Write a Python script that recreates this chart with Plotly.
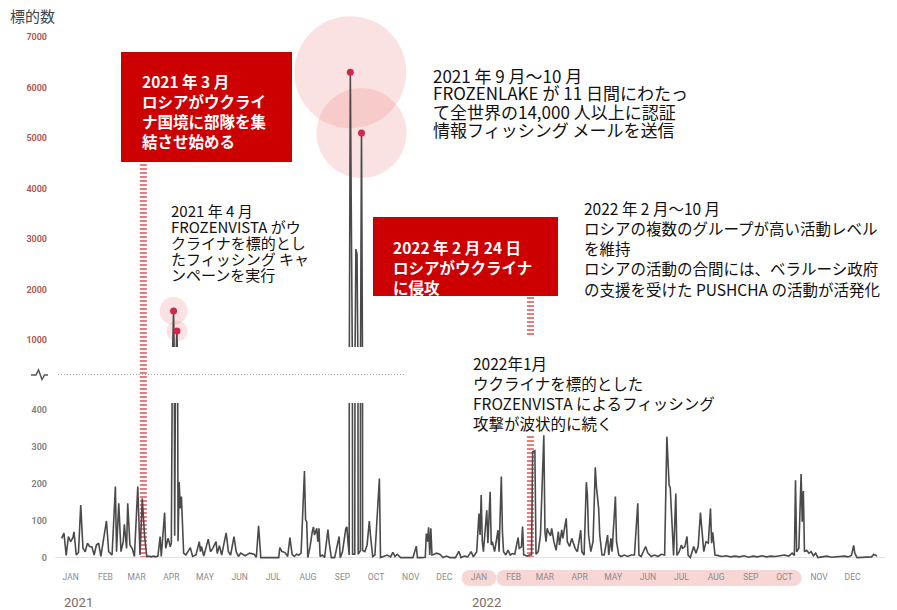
import pandas as pd
import plotly.graph_objects as go

# ---------------- data ----------------
START = "2021-01-01"
day_offsets = [
    0, 2, 4, 6, 8, 10, 11, 13, 15, 17, 19, 21, 23, 25, 27, 29, 31, 33, 35, 37, 40, 42, 45, 48, 49,
    51, 53, 55, 56, 58, 59, 61, 63, 65, 68, 70, 72, 74, 76, 78, 80, 82, 84, 86, 88, 89, 92, 93, 95,
    96, 97, 98, 99, 100, 101, 102, 103, 104, 105, 106, 107, 108, 109, 111, 115, 117, 120, 123, 124,
    125, 127, 131, 133, 135, 138, 139, 141, 143, 145, 147, 149, 151, 154, 156, 158, 160, 164, 168,
    172, 174, 176, 178, 185, 190, 194, 195, 197, 198, 200, 202, 204, 206, 208, 210, 212, 214, 217,
    218, 219, 220, 222, 224, 225, 226, 228, 229, 230, 231, 233, 235, 238, 239, 241, 244, 248, 249,
    251, 254, 255, 256, 257, 258, 259, 260, 262, 263, 264, 265, 267, 268, 269, 271, 273, 275, 276,
    278, 280, 284, 285, 288, 291, 294, 296, 298, 300, 303, 310, 314, 317, 318, 322, 325, 326, 327,
    328, 329, 330, 331, 333, 335, 338, 341, 344, 347, 352, 355, 357, 360, 363,
    366, 368, 371, 373, 374, 375, 376, 377, 380, 381, 383, 384, 385, 387, 390, 391, 393, 394, 395,
    397, 399, 401, 403, 405, 408, 409, 411, 412, 413, 414, 416, 418, 420, 421, 423, 424, 426, 428,
    431, 432, 433, 434, 435, 437, 438, 440, 442, 444, 445, 447, 448, 451, 452, 454, 456, 459, 461,
    464, 465, 467, 469, 470, 471, 473, 475, 477, 478, 480, 481, 483, 485, 488, 489, 491, 492, 495,
    496, 498, 500, 503, 506, 509, 512, 515, 516, 518, 522, 524, 527, 530, 533, 536, 539, 541, 543,
    544, 545, 547, 549, 550, 552, 554, 555, 557, 559, 560, 562, 565, 567, 569, 571, 573, 574, 576,
    578, 580, 581, 582, 584, 586, 590, 594, 598, 602, 606, 610, 614, 618, 622, 626, 630, 634, 638,
    642, 646, 650, 653, 655, 656, 657, 659, 661, 662, 663, 664, 666, 668, 670, 672, 674, 676, 680,
    684, 688, 692, 696, 700, 703, 706, 708, 709, 711, 715, 720, 724, 726, 729,
]
target_counts = [
    53, 67, 7, 58, 44, 55, 71, 8, 15, 143, 26, 17, 40, 31, 30, 8, 35, 40, 4, 40, 100, 17, 8, 193, 17,
    148, 17, 44, 91, 26, 148, 35, 26, 4, 193, 8, 161, 62, 4, 5, 3, 5, 3, 5, 58, 4, 123, 26, 53,
    44, 30, 40, 600, 1575, 60, 700, 1180, 45, 205, 134, 166, 97, 13, 8, 28, 4, 8, 44, 17,
    31, 5, 51, 17, 26, 44, 12, 33, 8, 44, 68, 17, 8, 58, 17, 4, 13, 6, 13,
    10, 2, 87, 1, 1, 1, 1, 28, 17, 17, 13, 4, 55, 10, 4, 10, 8, 13, 235,
    103, 98, 1, 30, 71, 84, 62, 80, 44, 80, 4, 8, 1, 77, 44, 1, 1, 58, 1,
    17, 80, 84, 40, 8, 6300, 2900, 10, 10, 2800, 2700, 10, 20, 5100, 20, 17, 35, 100, 62,
    4, 8, 215, 1, 5, 8, 3, 15, 4, 10, 1, 1, 1, 32, 1, 1, 2, 66, 44,
    83, 8, 80, 8, 10, 13, 10, 1, 5, 1, 1, 18, 1, 5, 3,
    17, 3, 17, 120, 62, 170, 44, 17, 129, 40, 179, 35, 44, 17, 75, 17, 220, 71, 17,
    8, 21, 8, 12, 10, 55, 26, 30, 85, 8, 8, 5, 8, 8, 287, 290, 10, 17, 62,
    332, 71, 44, 80, 71, 60, 80, 44, 21, 71, 35, 76, 53, 107, 44, 31, 53, 26, 17,
    75, 17, 8, 205, 166, 62, 17, 44, 245, 193, 134, 62, 8, 8, 62, 8, 53, 17, 166,
    44, 8, 4, 8, 4, 8, 8, 148, 8, 4, 31, 13, 4, 8, 4, 10, 8, 328, 197,
    190, 116, 7, 174, 7, 17, 35, 26, 30, 58, 7, 1, 31, 13, 31, 123, 44, 17, 44,
    40, 134, 40, 69, 8, 7, 4, 6, 3, 5, 3, 6, 2, 5, 3, 6, 3, 5, 4,
    6, 8, 5, 13, 7, 210, 17, 26, 227, 98, 181, 17, 21, 13, 17, 6, 13, 1, 3,
    5, 2, 3, 3, 5, 3, 7, 34, 13, 1, 1, 1, 3, 10, 5,
]
highlight_days = [100, 103, 258, 268]
month_names = ["JAN", "FEB", "MAR", "APR", "MAY", "JUN", "JUL", "AUG", "SEP", "OCT", "NOV", "DEC"]
years = ["2021", "2022"]
upper_ticks = [1000, 2000, 3000, 4000, 5000, 6000, 7000]
lower_ticks = [0, 100, 200, 300, 400]
event_dates = ["2021-03-15", "2022-02-24"]

# ---------------- geometry helpers ----------------
W, H = 897, 610
L, R, T, B = 55, 12, 30, 45
PW, PH = W - L - R, H - T - B


def px(x):
    return (x - L) / PW


def py(y):
    return (H - B - y) / PH


FONT = "Noto Sans CJK JP, Noto Sans, sans-serif"
start = pd.Timestamp(START)
dates = start + pd.to_timedelta(day_offsets, unit="D")
hl_dates = [start + pd.Timedelta(days=d) for d in highlight_days]
hl_vals = [target_counts[day_offsets.index(d)] for d in highlight_days]

fig = go.Figure()

# highlight halos
fig.add_trace(go.Scatter(
    x=hl_dates, y=hl_vals, xaxis="x2", yaxis="y2", mode="markers",
    marker=dict(size=[28, 21, 112, 90], color="rgba(236,120,120,0.30)", line=dict(width=0)),
    cliponaxis=False, hoverinfo="skip", showlegend=False))

for xa, ya in (("x", "y"), ("x2", "y2")):
    fig.add_trace(go.Scatter(
        x=dates, y=target_counts, xaxis=xa, yaxis=ya, mode="lines",
        line=dict(color="#4a4a4a", width=1.6), showlegend=False, hoverinfo="skip"))

fig.add_trace(go.Scatter(
    x=hl_dates, y=hl_vals, xaxis="x2", yaxis="y2", mode="markers",
    marker=dict(size=7, color="#d3264d"), cliponaxis=False, showlegend=False))

shapes = []
# hatched event markers
hatch_spans = [[(162, 558)], [(297, 335), (434, 558)]]
for d, spans in zip(event_dates, hatch_spans):
    for top, bot in spans:
        shapes.append(dict(type="line", xref="x", yref="paper", x0=d, x1=d,
                           y0=py(bot), y1=py(top), layer="below",
                           line=dict(color="#e47d7b", width=7, dash="2px,2px")))

# axis break marker
shapes.append(dict(type="line", xref="paper", yref="paper", x0=px(58), x1=px(405),
                   y0=py(374.5), y1=py(374.5), line=dict(color="#a8a8a8", width=1, dash="1px,2px")))
bx = [31, 36, 38.5, 42, 44.5, 48]
by = [375, 375, 370, 379.5, 375, 375]
path = "M " + " L ".join(f"{px(a):.5f},{py(b):.5f}" for a, b in zip(bx, by))
shapes.append(dict(type="path", xref="paper", yref="paper", path=path,
                   line=dict(color="#555555", width=1.5)))

# month pills for 2022 Jan / Feb-Oct
tick_dates = [d + pd.Timedelta(days=8) for d in pd.date_range(START, periods=24, freq="MS")]
pill_groups = [(12, 12), (13, 21)]
rad_days = 8 / (PW / 742)
for a, b in pill_groups:
    x0 = tick_dates[a] - pd.Timedelta(days=15.5)
    x1 = tick_dates[b] + pd.Timedelta(days=15.5)
    y0, y1 = py(586), py(570)
    col = "#f8d6d4"
    shapes.append(dict(type="rect", xref="x", yref="paper", x0=x0 + pd.Timedelta(days=rad_days),
                       x1=x1 - pd.Timedelta(days=rad_days), y0=y0, y1=y1, fillcolor=col,
                       line=dict(width=0), layer="below"))
    for c0 in (x0, x1 - pd.Timedelta(days=2 * rad_days)):
        shapes.append(dict(type="circle", xref="x", yref="paper", x0=c0,
                           x1=c0 + pd.Timedelta(days=2 * rad_days), y0=y0, y1=y1,
                           fillcolor=col, line=dict(width=0), layer="below"))

# red boxes
for (x0, y0, x1, y1) in [(121, 52, 292, 162), (373, 217, 558, 296)]:
    shapes.append(dict(type="rect", xref="paper", yref="paper", x0=px(x0), x1=px(x1),
                       y0=py(y1), y1=py(y0), fillcolor="#cc0000", line=dict(width=0)))

annotations = []


def text_lines(lines, x, y_first, spacing, size, color="#111111", bold=False):
    """one annotation per line (for tighter-than-default line spacing)"""
    for i, t in enumerate(lines):
        annotations.append(dict(
            text=f"<b>{t}</b>" if bold else t, xref="paper", yref="paper",
            x=px(x), y=py(y_first + i * spacing), xanchor="left", yanchor="middle",
            showarrow=False, borderpad=0, font=dict(family=FONT, size=size, color=color)))


def text_block(lines, x, y_center, size, color="#111111", bold=False):
    """single multi-line annotation"""
    body = "<br>".join(lines)
    annotations.append(dict(
        text=f"<b>{body}</b>" if bold else body, xref="paper", yref="paper",
        x=px(x), y=py(y_center), xanchor="left", yanchor="middle", align="left",
        showarrow=False, borderpad=0, font=dict(family=FONT, size=size, color=color)))


text_block(["2021 年 3 月", "ロシアがウクライ", "ナ国境に部隊を集", "結させ始める"],
           141, 111, 15.5, "#ffffff", True)
text_block(["2022 年 2 月 24 日", "ロシアがウクライナ", "に侵攻"],
           392, 266.5, 15.5, "#ffffff", True)
text_lines(["2021 年 4 月", "FROZENVISTA がウ", "クライナを標的とし", "たフィッシング キャ",
            "ンペーンを実行"], 170, 211, 15.8, 15)
text_lines(["2021 年 9 月～10 月", "FROZENLAKE が 11 日間にわたっ",
            "て全世界の14,000 人以上に認証", "情報フィッシング メールを送信"], 432, 75, 18, 17)
text_block(["2022 年 2 月～10 月", "ロシアの複数のグループが高い活動レベル", "を維持",
            "ロシアの活動の合間には、ベラルーシ政府", "の支援を受けた PUSHCHA の活動が活発化"],
           583, 248.5, 15.5)
text_block(["2022年1月", "ウクライナを標的とした", "FROZENVISTA によるフィッシング",
            "攻撃が波状的に続く"], 472, 393, 15.5)
text_lines(["標的数"], 9, 16, 0, 15, "#444444")

for yr in years:
    annotations.append(dict(text=yr, xref="x", yref="paper", x=f"{yr}-01-01", y=py(602),
                            xanchor="left", yanchor="middle", showarrow=False,
                            font=dict(family="Roboto, sans-serif", size=13, color="#7a6b6b")))

fig.update_layout(
    width=W, height=H, margin=dict(l=L, r=R, t=T, b=B),
    paper_bgcolor="white", plot_bgcolor="white", showlegend=False,
    shapes=shapes, annotations=annotations,
    xaxis=dict(type="date", range=["2020-12-26", "2023-01-07"], anchor="y",
               tickvals=tick_dates, ticktext=month_names * 2, ticks="",
               ticklabelstandoff=5,
               showgrid=False, zeroline=False, showline=False,
               tickfont=dict(family="Roboto, sans-serif", size=8.5, color="#8a8a8a")),
    xaxis2=dict(type="date", matches="x", anchor="y2", showticklabels=False,
                showgrid=False, zeroline=False, showline=False, ticks=""),
    yaxis=dict(domain=[0, py(403)], range=[-19, 419], tickvals=lower_ticks, ticks="",
               ticklabelstandoff=7,
               showgrid=False, zeroline=True, zerolinecolor="#e2e2e2", zerolinewidth=1,
               showline=False,
               tickfont=dict(family="Roboto, sans-serif", size=9, color="#7d7d7d", weight=600)),
    yaxis2=dict(domain=[py(347), 1], range=[861, 7139], tickvals=upper_ticks, ticks="",
                ticklabelstandoff=7,
                showgrid=False, zeroline=False, showline=False,
                tickfont=dict(family="Roboto, sans-serif", size=9, color="#b0504c", weight=600)),
)

fig.write_html("out.html", post_script="document.body.style.margin='0';",
               config={"displayModeBar": False})
